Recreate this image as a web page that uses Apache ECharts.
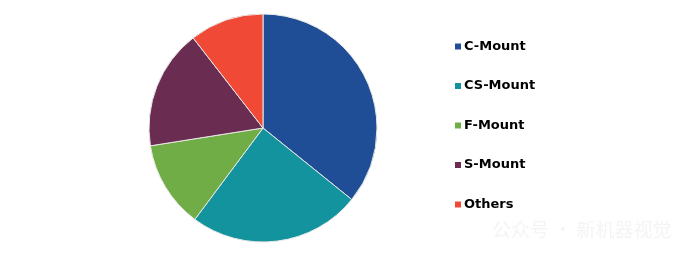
<!DOCTYPE html>
<html><head><meta charset="utf-8">
<script src="https://cdn.jsdelivr.net/npm/echarts@6/dist/echarts.min.js"></script>
<style>html,body{margin:0;padding:0;background:#fff}#c{width:692px;height:258px}</style>
</head><body><div id="c"></div>
<script>
const categories = ["C-Mount", "CS-Mount", "F-Mount", "S-Mount", "Others"];
const values = [35.8, 24.4, 12.3, 17.0, 10.5];
const colors = ["#1f4e96", "#12939d", "#70ad47", "#6b2c51", "#f04a37"];

const chart = echarts.init(document.getElementById('c'));
chart.setOption({
  animation: false,
  backgroundColor: '#ffffff',
  color: colors,
  legend: {
    orient: 'vertical',
    left: 450,
    top: 35,
    itemWidth: 6,
    itemHeight: 6,
    itemGap: 26.5,
    icon: 'rect',
    itemStyle: { borderWidth: 0 },
    data: categories,
    textStyle: { color: '#000', fontFamily: 'DejaVu Sans', fontWeight: 'bold', fontSize: 13, padding: [0,0,0,-2] }
  },
  graphic: [{
    type: 'text', left: 492, top: 220,
    style: { text: '公众号 · 新机器视觉', fill: '#f4f4f4', font: '19px "Noto Sans CJK SC"' }
  }],
  series: [{
    type: 'pie',
    center: [263, 128],
    radius: [0, 114],
    startAngle: 90,
    clockwise: true,
    label: { show: false },
    labelLine: { show: false },
    itemStyle: { borderColor: '#e8e8e8', borderWidth: 1 },
    data: categories.map((n, i) => ({ name: n, value: values[i] }))
  }]
});
</script></body></html>
